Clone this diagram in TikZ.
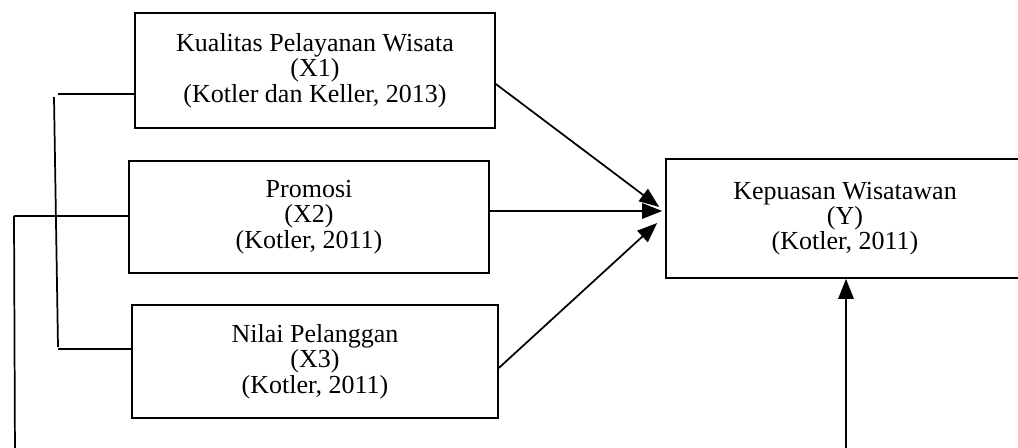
\documentclass[tikz,border=0pt]{standalone}
\usepackage{fontspec}
\setmainfont{Liberation Serif}
\usetikzlibrary{arrows.meta,calc}
\tikzset{
  kotak/.style={draw,line width=1.2pt,align=center,inner sep=0pt,
    font=\fontsize{19.5}{19}\selectfont},
  garis/.style={line width=1.3pt},
  panah/.style={garis,-{Triangle[length=15pt,width=11.5pt]}}
}

\begin{document}
\begin{tikzpicture}[x=0.75pt,y=-0.75pt]
    \useasboundingbox (0,0) rectangle (1018,448);
    \foreach \n/\cx/\cy/\w/\h/\txt in {%
      X1/315/70.5/360/115/{Kualitas Pelayanan Wisata\\(X1)\\(Kotler dan Keller, 2013)},
      X2/309/217/360/112/{Promosi\\(X2)\\(Kotler, 2011)},
      X3/315/361.5/366/113/{Nilai Pelanggan\\(X3)\\(Kotler, 2011)},
      Y/845/218.5/358/119/{Kepuasan Wisatawan\\(Y)\\(Kotler, 2011)}}{
      \node[kotak,minimum width={\w*0.75pt},minimum height={\h*0.75pt}]
        (\n) at (\cx,\cy) {\txt};}
    % panah ke Y
    \draw[panah] ($(X1.east)+(0,13.5)$) -- ($(Y.west)+(-6,-11.5)$);
    \draw[panah] ($(X2.east)+(-2,-6)$) -- ($(Y.west)+(-3,-7.5)$);
    \draw[panah] ($(X3.east)+(0,6.5)$) -- ($(Y.west)+(-8,4.5)$);
    \coordinate (bawahY) at (846,460);
    \draw[panah] (bawahY) -- (bawahY |- Y.south);
    % garis kiri
    \coordinate (kA) at (58,94);
    \coordinate (kB) at (54,97);
    \coordinate (kC) at (58,347);
    \coordinate (kD) at (58,349);
    \coordinate (kE) at (14,216);
    \coordinate (kG) at (15,460);
    \draw[garis] (kA) -- (kA -| X1.west);
    \draw[garis] (kB) -- (kC);
    \draw[garis] (kD) -- (kD -| X3.west);
    \draw[garis] (kE) -- (kE -| X2.west);
    \draw[garis] (kE) -- (kG);
  \end{tikzpicture}
\end{document}
